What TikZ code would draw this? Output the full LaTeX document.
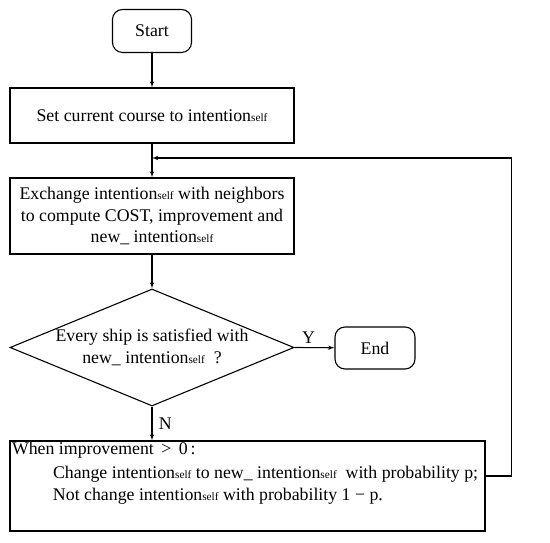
\documentclass[tikz,border=0pt]{standalone}
\usepackage{fontspec}
\setmainfont{Liberation Serif}
\usetikzlibrary{arrows,shapes.geometric}
\newcommand{\slf}{{\fontsize{11.3bp}{11.3bp}\selectfont self}}

\begin{document}
\begin{tikzpicture}[>=latex', line width=1.1pt,
  every node/.style={font=\fontsize{17.8bp}{21.5bp}\selectfont},
  term/.style={draw, rounded corners=10bp, minimum width=79bp, minimum height=43bp},
  box/.style={draw, align=center, minimum width=284bp}]
\useasboundingbox (0bp,0bp) rectangle (550bp,543bp);
%%
  \node (start) at (152bp,512bp) [term] {Start};
  \node (setc) at (152bp,427.5bp) [box, minimum height=55bp] {Set current course to intention\slf};
  \coordinate (merge) at (152bp,385bp);
  \node (exch) at (152bp,327bp) [box, minimum height=76bp, inner sep=1bp]
    {Exchange intention\slf\ with neighbors\\to compute COST, improvement and\\new\_ intention\slf};
  \node (check) at (152bp,195.5bp) [draw, diamond, inner sep=0pt, aspect=2.43,
    minimum width=284bp, minimum height=117bp,
    label={[align=center]center:Every ship is satisfied with\\new\_ intention\slf\ \ ?}] {};
  \node (end) at (375bp,195bp) [term, minimum width=80bp, minimum height=42bp] {End};
  \node (update) at (247.5bp,57bp) [draw, minimum width=475bp, minimum height=90bp] {};
  \node (rule) [anchor=north west, align=left, inner sep=0pt] at ([xshift=2bp,yshift=-1bp]update.north west)
    {When improvement \,>\, 0\,:\\[3bp]
     \hspace*{41bp}Change intention\slf\ to new\_ intention\slf\ \ with probability p;\\
     \hspace*{41bp}Not change intention\slf\ with probability 1 − p.};
  \draw [->] (start) -- (setc);
  \draw (setc) -- (merge);
  \draw [->] (merge) -- (exch);
  \draw [->] (exch) -- (check);
  \draw [->] (check.east) -- (end) node [pos=0.35, above] {Y};
  \draw [->] (check.south) -- (update.north -| check.south) node [midway, right, xshift=3bp] {N};
  \draw [->] ([yshift=10bp]update.east) -- ++(26bp,0) |- (merge);
%
\end{tikzpicture}
\end{document}
